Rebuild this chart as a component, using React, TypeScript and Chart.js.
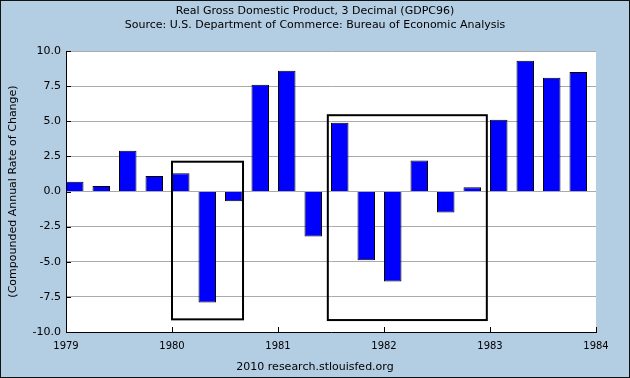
import { useEffect, useRef } from 'react';
import { Chart, registerables } from 'chart.js';

Chart.register(...registerables);

const TITLE_LINES = [
  'Real Gross Domestic Product, 3 Decimal (GDPC96)',
  'Source: U.S. Department of Commerce: Bureau of Economic Analysis',
];
const FOOTER_TEXT = '2010 research.stlouisfed.org';
const Y_AXIS_TITLE = '(Compounded Annual Rate of Change)';

const YEARS = [1979, 1980, 1981, 1982, 1983];
const QUARTER_OFFSETS = [0, 0.25, 0.5, 0.75];
const GDP_GROWTH = [
  0.7, 0.4, 2.9, 1.1,
  1.3, -7.9, -0.7, 7.6,
  8.6, -3.2, 4.9, -4.9,
  -6.4, 2.2, -1.5, 0.3,
  5.1, 9.3, 8.1, 8.5,
];

const X_TICKS = [1979, 1980, 1981, 1982, 1983, 1984];
const X_TICK_LABELS = ['1979', '1980', '1981', '1982', '1983', '1984'];
const Y_TICKS = [-10, -7.5, -5, -2.5, 0, 2.5, 5, 7.5, 10];
const Y_TICK_LABELS = ['-10.0', '-7.5', '-5.0', '-2.5', '0.0', '2.5', '5.0', '7.5', '10.0'];

// highlighted periods (rectangles drawn around groups of bars)
const BOX_X_START = [1980.0, 1981.47];
const BOX_X_END = [1980.67, 1982.97];
const BOX_Y_LOW = [-9.1, -9.15];
const BOX_Y_HIGH = [2.12, 5.43];

const BAR_FRACTION = 0.66;
const QUARTER = 0.25;

const FONT = 'DejaVu Sans';
const BG = '#B3CDE3';

export default function App() {
  const canvasRef = useRef<HTMLCanvasElement | null>(null);

  useEffect(() => {
    document.body.style.margin = '0';
    const canvas = canvasRef.current;
    if (!canvas) return;

    const points: { x: number; y: number }[] = [];
    YEARS.forEach((yr, yi) => {
      QUARTER_OFFSETS.forEach((q, qi) => {
        points.push({ x: yr + q + (QUARTER * BAR_FRACTION) / 2, y: GDP_GROWTH[yi * 4 + qi] });
      });
    });

    const bgPlugin = {
      id: 'bg',
      beforeDraw(chart: any) {
        const { ctx, chartArea, width, height } = chart;
        ctx.save();
        ctx.fillStyle = BG;
        ctx.fillRect(0, 0, width, height);
        ctx.fillStyle = '#FFFFFF';
        ctx.fillRect(chartArea.left, chartArea.top, chartArea.right - chartArea.left, chartArea.bottom - chartArea.top);
        ctx.restore();
      },
      afterDraw(chart: any) {
        const { ctx, chartArea, width, height } = chart;
        const xs = chart.scales.x;
        const ys = chart.scales.y;
        ctx.save();
        ctx.strokeStyle = '#000';
        ctx.lineWidth = 1;
        ctx.beginPath();
        Y_TICKS.forEach((v) => {
          const py = Math.round(ys.getPixelForValue(v)) + 0.5;
          ctx.moveTo(chartArea.left, py);
          ctx.lineTo(chartArea.left + 5, py);
        });
        X_TICKS.forEach((v) => {
          const px = Math.round(xs.getPixelForValue(v)) + 0.5;
          ctx.moveTo(px, chartArea.bottom);
          ctx.lineTo(px, chartArea.bottom - 5);
        });
        ctx.stroke();
        ctx.lineWidth = 2;
        BOX_X_START.forEach((x0, i) => {
          const l = xs.getPixelForValue(x0);
          const r = xs.getPixelForValue(BOX_X_END[i]);
          const t = ys.getPixelForValue(BOX_Y_HIGH[i]);
          const b = ys.getPixelForValue(BOX_Y_LOW[i]);
          ctx.strokeRect(l, t, r - l, b - t);
        });
        ctx.lineWidth = 1;
        ctx.strokeStyle = '#111';
        ctx.strokeRect(0.5, 0.5, width - 1, height - 1);
        ctx.restore();
      },
    };

    const chart = new Chart(canvas, {
      type: 'bar',
      data: {
        datasets: [
          {
            data: points,
            backgroundColor: '#0000FF',
            borderColor: '#000000',
            borderWidth: 1,
            categoryPercentage: 1,
            barPercentage: BAR_FRACTION,
          },
        ],
      },
      options: {
        animation: false,
        responsive: false,
        maintainAspectRatio: false,
        layout: { padding: { left: 0, right: 0, top: 0, bottom: 0 } },
        plugins: {
          legend: { display: false },
          tooltip: { enabled: false },
          title: {
            display: true,
            text: TITLE_LINES,
            color: '#000',
            font: { family: FONT, size: 11, weight: 'normal', lineHeight: 1.2 },
            padding: { top: 5, bottom: 19.6 },
          },
          subtitle: {
            display: true,
            position: 'bottom',
            text: FOOTER_TEXT,
            color: '#000',
            font: { family: FONT, size: 11, weight: 'normal', lineHeight: 1.2 },
            padding: { top: 0, bottom: 4 },
          },
        },
        scales: {
          x: {
            type: 'linear',
            min: X_TICKS[0],
            max: X_TICKS[X_TICKS.length - 1],
            offset: false,
            grid: { display: false, drawTicks: false, offset: false },
            border: { display: true, color: '#000', width: 1 },
            afterBuildTicks(scale: any) {
              scale.ticks = X_TICKS.map((value) => ({ value }));
            },
            afterFit(scale: any) {
              scale.height = 28.8;
            },
            ticks: {
              color: '#000',
              padding: 8,
              maxRotation: 0,
              autoSkip: false,
              font: { family: FONT, size: 10 },
              callback: (_v: any, i: number) => X_TICK_LABELS[i],
            },
          },
          y: {
            type: 'linear',
            min: Y_TICKS[0],
            max: Y_TICKS[Y_TICKS.length - 1],
            grid: { color: '#AAAAAA', lineWidth: 1, drawTicks: false },
            border: { display: true, color: '#000', width: 1 },
            afterBuildTicks(scale: any) {
              scale.ticks = Y_TICKS.map((value) => ({ value }));
            },
            afterFit(scale: any) {
              scale.width = 66;
            },
            ticks: {
              color: '#000',
              padding: 5,
              autoSkip: false,
              font: { family: FONT, size: 11 },
              callback: (_v: any, i: number) => Y_TICK_LABELS[i],
            },
            title: {
              display: true,
              text: Y_AXIS_TITLE,
              color: '#000',
              font: { family: FONT, size: 11, weight: 'normal', lineHeight: 1.2 },
              padding: { top: 7, bottom: 0 },
            },
          },
          // empty right-hand spacer so the plot ends where the reference's does
          spacer: {
            type: 'linear',
            position: 'right',
            display: true,
            min: 0,
            max: 1,
            grid: { display: false, drawTicks: false },
            border: { display: false },
            ticks: { display: false },
            afterFit(scale: any) {
              scale.width = 34;
            },
          },
        },
      },
      plugins: [bgPlugin],
    } as any);

    return () => chart.destroy();
  }, []);

  return (
    <div style={{ width: 630, height: 378 }}>
      <canvas ref={canvasRef} width={630} height={378} style={{ display: 'block' }} />
    </div>
  );
}
